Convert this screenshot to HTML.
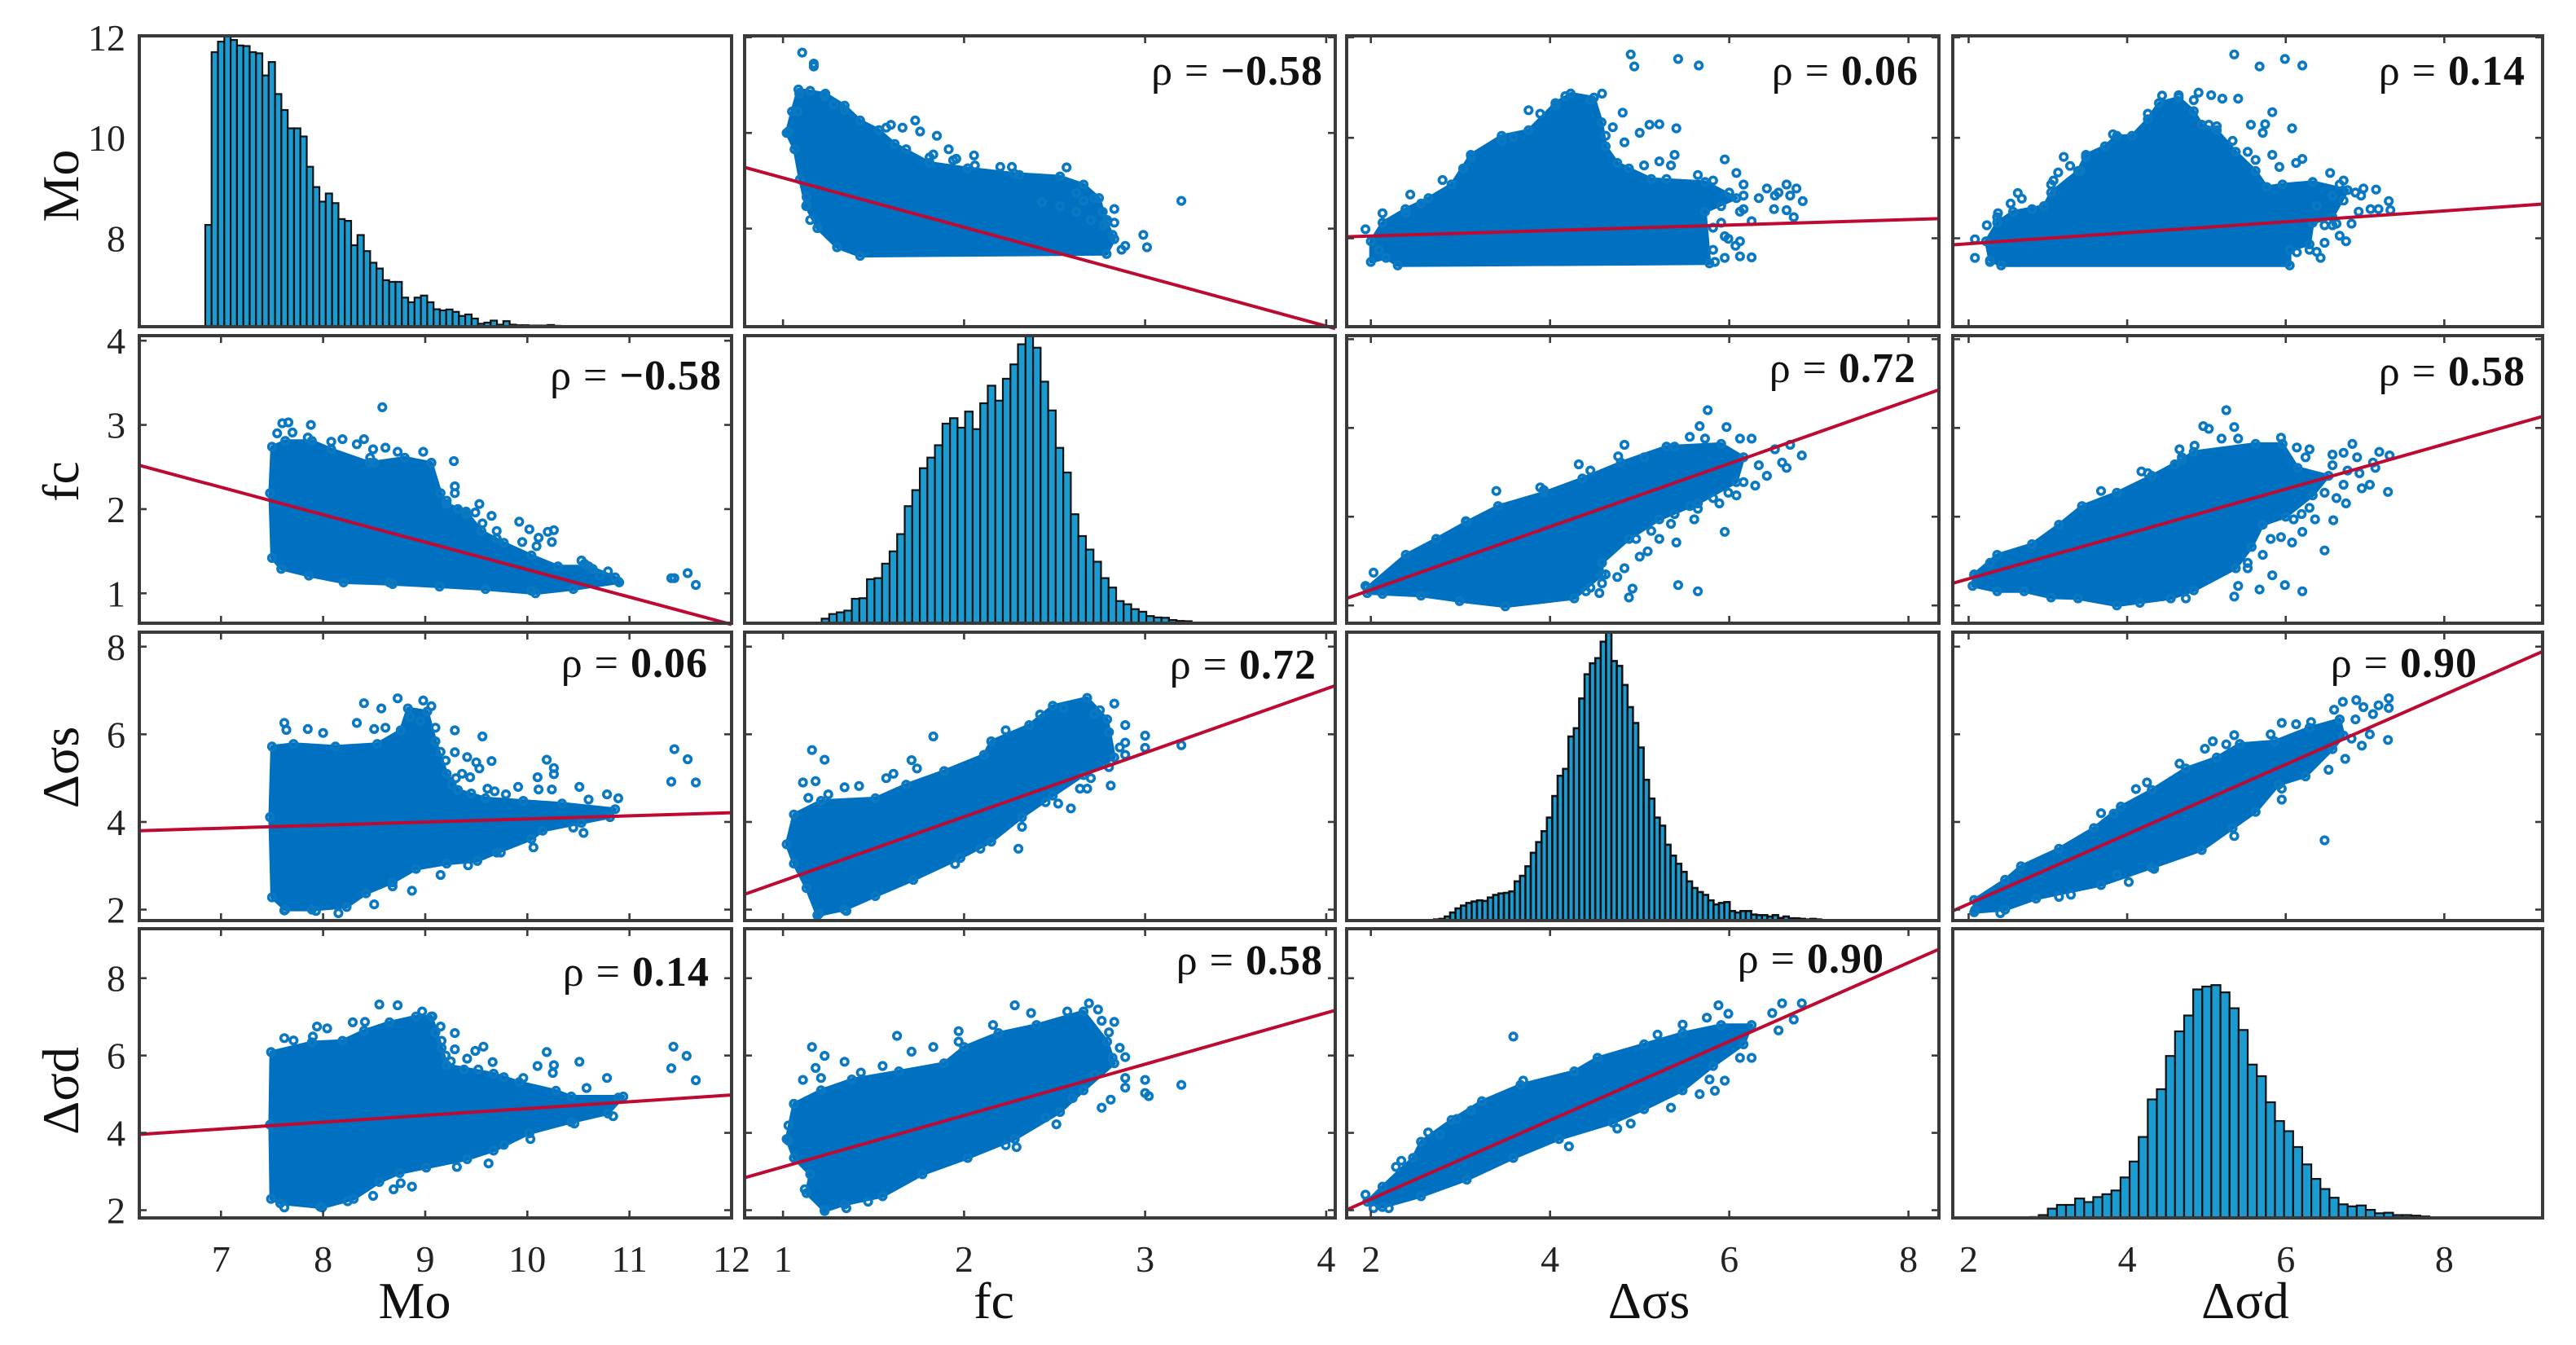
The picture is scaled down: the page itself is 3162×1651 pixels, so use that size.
<!DOCTYPE html>
<html lang="en">
<head>
<meta charset="utf-8">
<title>Scatterplot matrix of Mo, fc, Δσs, Δσd</title>
<style>
html,body{margin:0;padding:0;background:#fff;}
svg{display:block;}
text{font-family:"Liberation Serif",serif;fill:#111;}
.tick{font-size:46px;fill:#222;}
.title{font-size:64px;}
.rho{font-size:52px;letter-spacing:1px;}
.rho tspan.n{font-weight:bold;}
</style>
</head>
<body>
<svg id="matrix" xmlns="http://www.w3.org/2000/svg" width="3162" height="1651" viewBox="0 0 3162 1651">
<rect x="0" y="0" width="3162" height="1651" fill="#fff"/>
<g id="plots"></g>
<g>
<text class="title" x="509" y="1618" text-anchor="middle">Mo</text>
<text class="title" x="1220" y="1618" text-anchor="middle">fc</text>
<text class="title" x="2024" y="1618" text-anchor="middle">Δσs</text>
<text class="title" x="2756" y="1618" text-anchor="middle">Δσd</text>
<text class="title" transform="translate(96,228) rotate(-90)" text-anchor="middle">Mo</text>
<text class="title" transform="translate(96,591) rotate(-90)" text-anchor="middle">fc</text>
<text class="title" transform="translate(96,942) rotate(-90)" text-anchor="middle">Δσs</text>
<text class="title" transform="translate(96,1339) rotate(-90)" text-anchor="middle">Δσd</text>
</g>
<g>
<text class="rho" x="1624" y="104" text-anchor="end">ρ = <tspan class="n">−0.58</tspan></text>
<text class="rho" x="2355" y="104" text-anchor="end">ρ = <tspan class="n">0.06</tspan></text>
<text class="rho" x="3100" y="104" text-anchor="end">ρ = <tspan class="n">0.14</tspan></text>
<text class="rho" x="886" y="478" text-anchor="end">ρ = <tspan class="n">−0.58</tspan></text>
<text class="rho" x="2352" y="469" text-anchor="end">ρ = <tspan class="n">0.72</tspan></text>
<text class="rho" x="3100" y="473" text-anchor="end">ρ = <tspan class="n">0.58</tspan></text>
<text class="rho" x="869" y="831" text-anchor="end">ρ = <tspan class="n">0.06</tspan></text>
<text class="rho" x="1616" y="833" text-anchor="end">ρ = <tspan class="n">0.72</tspan></text>
<text class="rho" x="3041" y="831" text-anchor="end">ρ = <tspan class="n">0.90</tspan></text>
<text class="rho" x="871" y="1210" text-anchor="end">ρ = <tspan class="n">0.14</tspan></text>
<text class="rho" x="1624" y="1196" text-anchor="end">ρ = <tspan class="n">0.58</tspan></text>
<text class="rho" x="2313" y="1194" text-anchor="end">ρ = <tspan class="n">0.90</tspan></text>
</g>
</svg>
<script>
// ---------- axis limits and ticks ----------
const moDomain = [6.2, 12];
const fcDomain = [0.788, 4.05];
const dssDomain = [1.73, 8.34];
const dsdDomain = [1.8, 9.24];
const rowMoDomainFc = [5.95, 12.03];
const rowMoDomain = [6.24, 12.03];
const rowFcDomainMo = [0.645, 4.06];
const rowFcDomain = [0.80, 4.04];
const rowDssDomain = [1.75, 8.33];
const rowDsdDomain = [1.80, 9.28];
const histDomain = [0, 100];
const moTicks = [7, 8, 9, 10, 11, 12];
const fcTicks = [1, 2, 3, 4];
const dssTicks = [2, 4, 6, 8];
const dsdTicks = [2, 4, 6, 8];
const rowMoTicks = [12, 10, 8];
const rowFcTicks = [4, 3, 2, 1];
const rowDssTicks = [8, 6, 4, 2];
const rowDsdTicks = [8, 6, 4, 2];

// ---------- histograms: first bin edge, bin width, bar heights ----------
const histMoStart = 6.846;
const histMoBin = 0.0621;
const histMoValues = [35,94.4,98,100,98.6,96.7,96.5,94.4,94,86.4,91,80,74.5,68.2,68.2,65.4,55,48,43,45.8,42.5,37,36.4,28,31.5,26,22,20,16,15.4,15.4,10,8.4,10,10.7,8.4,6,5.6,5.9,5.1,3.7,4.2,2.8,1,1.4,2.1,0.7,1.9,0.7,0.5,0.5,0.4,0.4,0.4,0.6,0.3,0.2,0.1,0.2,0.2,0.1,0.1,0.1,0.1];
const histFcStart = 1.2135;
const histFcBin = 0.0417;
const histFcValues = [1.6,3.2,3.8,4.4,8.5,8.7,15.3,15.7,20.7,25,31,40.7,46.3,53.9,57.6,61.9,69.4,71.3,68,73.6,67.5,76.5,82.6,77.4,85,90,97,100,95.8,84,74,61,52.4,37.9,30.3,25.6,21.4,15.7,12.4,7.7,6.6,4.9,4,2.5,2,1.9,1.1,0.8,0.7,0.2,0.1,0.1];
const histDssStart = 2.645;
const histDssBin = 0.06;
const histDssValues = [0.2,0.4,0.6,1.4,2.8,4.2,5.2,6.1,6.6,7,6.8,8,8.9,9.4,9.6,10.1,13.6,15.5,18.8,23.5,27.2,31,35.7,43.2,50.2,52.6,63.8,66.7,77,85.4,89.2,91,96.7,100,90,88.3,81.7,74,68.5,60,48.8,42.3,35.7,32.9,26.3,22.5,19.7,16.9,13.6,11.3,9.9,8.9,7,5.6,6.1,6.4,3.3,2.8,3.3,3.3,2.1,1.9,1.9,1.4,1.9,0.9,1.4,0.8,0.8,0.6,0.4,0.6,0.4,0.2,0.1];
const histDsdStart = 2.77;
const histDsdBin = 0.1146;
const histDsdValues = [0.3,1,3.2,4.5,4.5,6.7,5.5,7.2,8.2,9.5,14,19.5,28,41,44.5,56,64.5,70,79,80,80.5,78,72.5,65,53,49,40,33.5,30,24.5,18.5,13.5,10,7,4.7,4,4.3,2.8,1.6,1.8,1,1,0.8,0.5,0.2];

// ---------- dense cloud outlines, edge points and fit-line end values ----------
const cloudFcMo = [[1.085,10.91],[1.234,10.82],[1.34,10.57],[1.426,10.26],[1.53,10.06],[1.617,9.77],[1.81,9.375],[2.02,9.26],[2.277,9.15],[2.53,9.09],[2.66,8.92],[2.745,8.64],[2.787,8.125],[2.83,7.78],[2.787,7.47],[1.426,7.43],[1.298,7.61],[1.19,8.01],[1.128,8.47],[1.094,9.03],[1.064,9.66],[1.02,10],[1.05,10.45]];
const pointsFcMo = [[1.106,11.68],[1.17,11.45],[1.17,11.39],[1.596,10.17],[1.73,10.26],[1.66,10.11],[1.757,10.03],[1.85,9.94],[1.915,9.66],[2.055,9.53],[1.83,9.55],[1.957,9.46],[2.2,9.29],[2.264,9.29],[2.566,9.28],[2.306,9.12],[2.766,8.35],[2.83,8.41],[2.83,8.125],[2.99,7.87],[3.01,7.61],[2.89,7.64],[3.2,8.58],[2.62,8.75],[2.66,8.58],[2.72,8.64],[2.62,8.35],[2.53,8.47],[2.7,8.18],[2.79,8.18],[2.82,7.87],[2.77,8.07],[2.87,7.56],[2.43,8.55],[2.06,9.32],[1.94,9.43],[1.81,9.49],[1.68,9.66],[1.57,10.11],[1.34,10.48],[1.28,10.6],[1.23,10.77],[1.15,10.88],[1.09,10.82],[1.08,10.45],[1.03,10.03],[1.13,8.66],[1.13,8.49],[1.15,8.18]];
const fitFcMo = [9.28, 5.91];

const cloudDssMo = [[2,7.94],[2.13,8.31],[2.386,8.58],[2.644,8.8],[2.9,9.07],[3.116,9.66],[3.46,10.04],[3.76,10.15],[4.06,10.69],[4.23,10.88],[4.49,10.8],[4.575,10.31],[4.62,9.83],[4.75,9.5],[5.13,9.18],[5.73,9.12],[6.08,8.8],[5.73,8.53],[5.78,7.5],[2.3,7.46],[2.17,7.61],[2,7.53]];
const pointsDssMo = [[4.9,11.66],[4.94,11.42],[5.43,11.57],[5.66,11.44],[3.76,10.55],[3.89,10.48],[4.81,10.5],[5,10.1],[5.11,10.26],[5.22,10.27],[5.41,10.19],[4.83,9.91],[5.39,9.66],[5.95,9.57],[6.08,9.3],[5.22,9.53],[5.35,9.45],[2.44,8.87],[2.8,9.16],[2.13,8.5],[1.94,8.18],[6.16,9.07],[6.42,8.99],[6.64,9.07],[6.75,8.99],[6.82,8.74],[6.5,8.58],[6.64,8.56],[6.25,8.34],[6.72,8.42],[6.12,8.53],[5.91,8.31],[5.95,8.04],[6.07,7.85],[6.12,7.64],[6.25,7.62],[5.95,7.61],[5.84,7.53],[6.33,8.8],[6.55,8.91],[2.56,8.69],[2.39,8.5],[3.03,9.39],[3.12,9.61],[3.46,9.94],[3.59,10.02],[4.06,10.64],[4.17,10.83],[4.58,10.88],[4.45,10.75],[4.7,10.21],[4.62,10.04],[4.88,9.39],[5.05,9.45],[5.3,9.18],[5.65,9.26],[5.82,9.15],[6,8.91],[6.16,8.85],[6.51,8.85],[6.68,8.85],[5.91,8.64],[6.16,8.58],[5.82,8.21],[5.99,7.99],[5.82,7.77],[6.12,7.94],[2.09,7.77]];
const fitDssMo = [8.03, 8.39];

const cloudDsdMo = [[2.22,7.94],[2.36,8.31],[2.56,8.53],[2.95,8.64],[3.04,8.91],[3.38,9.34],[3.48,9.66],[3.72,9.83],[3.87,10.04],[4.06,10.04],[4.26,10.37],[4.4,10.69],[4.65,10.8],[4.84,10.53],[4.94,10.26],[5.13,10.15],[5.37,9.72],[5.62,9.34],[5.76,9.02],[5.96,9.07],[6.34,9.12],[6.78,8.96],[6.59,8.42],[6.34,8.31],[6.3,7.88],[6.05,7.77],[6.05,7.46],[2.41,7.46],[2.27,7.56]];
const pointsDsdMo = [[5.35,11.66],[5.67,11.42],[5.99,11.57],[6.21,11.44],[4.44,10.84],[4.9,10.9],[5.06,10.85],[5.2,10.78],[5.4,10.78],[5.83,10.51],[5.56,10.26],[5.74,10.27],[5.71,10.1],[6.08,10.19],[5.83,9.66],[6.21,9.58],[6.13,9.5],[5.92,9.42],[3.2,9.62],[3.28,9.44],[3.13,9.31],[3.07,9.15],[2.62,8.9],[2.67,8.79],[2.53,8.69],[2.37,8.5],[2.23,8.26],[2.08,7.98],[2.08,7.61],[2.27,7.53],[7.14,8.97],[7.3,8.74],[7.32,8.56],[7.17,8.58],[7.07,8.58],[6.98,8.99],[6.92,8.53],[6.83,8.29],[6.64,8.29],[6.49,8.26],[6.76,7.94],[6.68,8.05],[6.49,7.91],[6.39,7.73],[6.44,7.61],[6.14,7.72],[6.3,7.77],[6.73,9.15],[6.56,9.3],[6.59,8.85],[6.68,9.07],[6.88,8.91],[6.73,8.75],[6.95,8.85],[6.39,8.64],[5.62,9.56],[5.52,9.72],[5.33,9.94],[5.13,10.23],[5.03,10.26],[4.84,10.75],[4.65,10.85],[4.26,10.48],[3.82,10.07],[3.48,9.61],[3.41,9.34],[3.04,9.07],[2.8,8.58],[2.36,8.42],[6.59,8.26]];
const fitDsdMo = [7.87, 8.68];

const cloudMoFc = [[7.5,2.74],[7.63,2.81],[7.89,2.81],[8.08,2.71],[8.46,2.55],[8.8,2.61],[9.06,2.55],[9.15,2.19],[9.21,2.06],[9.4,1.97],[9.55,1.74],[9.77,1.6],[10.04,1.45],[10.3,1.32],[10.6,1.32],[10.86,1.19],[10.9,1.13],[10.45,1.05],[10.08,1],[9.59,1.05],[9.14,1.08],[8.68,1.11],[8.2,1.13],[7.86,1.21],[7.59,1.29],[7.5,1.42],[7.48,2.19]];
const pointsMoFc = [[8.58,3.21],[7.66,3.03],[7.6,3.02],[7.88,3],[7.55,2.9],[7.7,2.91],[7.85,2.85],[8.08,2.8],[8.19,2.83],[8.4,2.83],[8.33,2.77],[8.49,2.71],[8.61,2.73],[8.73,2.68],[8.98,2.68],[9.28,2.57],[9.06,2.55],[9.29,2.27],[9.29,2.19],[9.21,2.1],[9.53,2.06],[9.49,1.96],[9.65,1.92],[9.56,1.83],[9.7,1.74],[9.92,1.85],[10.02,1.76],[10.26,1.75],[10.2,1.73],[10.24,1.61],[10.11,1.66],[10.09,1.56],[9.95,1.61],[10.56,1.35],[11.41,1.18],[11.44,1.18],[11.57,1.24],[11.65,1.1],[10.89,1.14],[9.32,2],[9.4,1.94],[9.7,1.65],[10.53,1.39],[10.64,1.29],[10.71,1.21],[10.79,1.26],[8.5,2.55],[8.46,2.61],[8.65,1.13],[10.04,1.03]];
const fitMoFc = [2.52, 0.63];

const cloudDssFc = [[1.96,1.2],[2.39,1.57],[2.73,1.75],[3.07,1.94],[3.42,2.12],[3.93,2.27],[4.36,2.43],[4.79,2.61],[5.3,2.79],[5.91,2.82],[6.16,2.67],[6.08,2.39],[5.65,2.15],[5.22,1.97],[4.88,1.75],[4.58,1.48],[4.58,1.35],[4.27,1.08],[3.5,0.99],[2.99,1.05],[2.56,1.11],[2.13,1.13],[1.96,1.14]];
const pointsDssFc = [[5.76,3.2],[5.67,3.02],[5.97,3.01],[5.56,2.9],[6.12,2.88],[6.25,2.88],[4.83,2.81],[4.76,2.68],[4.32,2.59],[3.4,2.29],[3.06,1.95],[3.89,2.33],[2.03,1.37],[1.94,1.22],[6.81,2.69],[6.59,2.61],[6.68,2.81],[6.64,2.55],[6.42,2.46],[6.29,2.35],[6.08,2.24],[5.89,2.15],[5.65,2.09],[5.61,1.97],[5.35,1.92],[5.95,1.83],[5.22,1.75],[5.41,1.71],[5.09,1.61],[5,1.55],[4.83,1.42],[4.75,1.32],[5.43,1.23],[5.65,1.16],[4.92,1.19],[4.88,1.09],[4.55,1.14],[4.58,1.25],[4.4,1.16],[6.51,2.76],[6.33,2.58],[6.16,2.39],[5.99,2.27],[5.82,2.21],[5.56,2.12],[5.39,2.03],[5.13,1.84],[4.96,1.75],[4.62,1.35],[4.45,1.2],[5.73,2.88],[5.39,2.79],[5.05,2.67],[4.45,2.52],[3.93,2.3]];
const fitDssFc = [1.08, 3.43];

const cloudDsdFc = [[2.07,1.35],[2.36,1.57],[2.8,1.69],[3.14,1.91],[3.43,2.12],[3.87,2.27],[4.31,2.46],[4.69,2.64],[4.84,2.73],[5.62,2.82],[5.96,2.82],[6.15,2.55],[6.54,2.46],[6.34,2.24],[6,2],[5.71,1.91],[5.57,1.66],[5.37,1.42],[4.84,1.17],[4.55,1.08],[3.87,1],[3.38,1.08],[3.04,1.09],[2.7,1.16],[2.36,1.16],[2.05,1.22]];
const pointsDsdFc = [[5.25,3.2],[4.96,3.02],[5.03,2.99],[5.35,3.01],[5.19,2.88],[5.4,2.88],[4.85,2.8],[4.66,2.76],[5.94,2.89],[6.14,2.78],[6.3,2.76],[6.84,2.82],[6.73,2.72],[6.9,2.67],[7.18,2.73],[7.31,2.69],[7.1,2.61],[7.13,2.55],[7.06,2.36],[6.96,2.32],[7.29,2.28],[6.76,2.15],[6.73,2.36],[6.59,2.7],[3.67,2.29],[4.18,2.51],[4.26,2.49],[4.6,2.59],[6.37,1.97],[6.6,1.96],[6.3,2.1],[6.21,1.83],[6.49,1.62],[6.08,1.71],[5.94,1.77],[5.81,1.75],[5.83,1.34],[5.99,1.23],[6.21,1.16],[5.67,1.18],[5.4,1.22],[5.35,1.1],[5.71,1.57],[5.52,1.42],[2.07,1.34],[2.27,1.48],[6.59,2.58],[6.78,2.52],[6.93,2.49],[6.49,2.27],[6.64,2.21],[6.2,2.03],[6.1,1.97],[5.52,1.48],[4.74,1.08],[4.16,1.03],[6.25,2.67],[4.69,2.67]];
const fitDsdFc = [1.25, 3.13];

const cloudMoDss = [[7.5,5.72],[7.71,5.78],[8.12,5.72],[8.53,5.78],[8.76,6.09],[8.83,6.59],[9.02,6.52],[9.1,5.84],[9.21,5.1],[9.32,4.73],[9.59,4.54],[9.96,4.48],[10.34,4.42],[10.86,4.29],[10.81,4.11],[10.53,3.98],[10.15,3.8],[10.04,3.61],[9.7,3.3],[9.51,3.11],[9.21,3.05],[8.91,2.93],[8.68,2.62],[8.42,2.37],[8.23,2.06],[7.89,2],[7.63,2],[7.5,2.28],[7.48,4.11]];
const pointsMoDss = [[8.73,6.82],[8.4,6.71],[8.57,6.59],[8.98,6.77],[9.06,6.64],[7.62,6.26],[7.64,6.1],[7.85,6.12],[8,6.03],[8.33,6.26],[8.5,6.12],[8.61,6.15],[9.29,6.09],[9.56,5.95],[9.1,6.15],[9.29,5.59],[9.41,5.48],[9.5,5.36],[9.65,5.39],[9.53,5.22],[9.44,5.02],[9.36,5.1],[9.61,4.76],[9.68,4.7],[9.79,4.63],[9.91,4.8],[10.19,5.42],[10.26,5.23],[10.26,5.09],[10.1,5.02],[10.11,4.74],[10.24,4.74],[10.51,4.8],[10.6,4.51],[10.78,4.63],[10.89,4.54],[11.44,5.66],[11.57,5.43],[11.41,4.92],[11.65,4.9],[10.55,3.75],[10.45,3.87],[10.06,3.42],[9.74,3.3],[9.42,3.01],[9.15,2.79],[8.87,2.43],[8.5,2.12],[8.15,1.92],[7.93,1.97],[7.62,1.98],[8.68,2.53],[9.15,5.6],[9.2,5.4],[9.3,5],[9.26,4.85],[9.45,4.65],[8.95,6.3],[8.85,6.4]];
const fitMoDss = [3.8, 4.21];

const cloudFcDss = [[1.06,4.17],[1.21,4.48],[1.51,4.54],[1.68,4.85],[1.89,5.16],[2.11,5.53],[2.15,5.84],[2.36,6.21],[2.49,6.65],[2.68,6.83],[2.79,6.34],[2.83,5.47],[2.66,5.07],[2.49,4.6],[2.32,4.11],[2.15,3.55],[1.98,3.18],[1.72,2.68],[1.51,2.31],[1.34,2],[1.19,1.87],[1.13,2.49],[1.06,3.05],[1.02,3.49]];
const pointsFcDss = [[1.16,5.64],[1.23,5.42],[1.83,5.95],[1.11,4.9],[1.18,4.93],[1.34,4.79],[1.42,4.82],[1.14,4.55],[1.25,4.63],[1.57,5],[1.61,5.1],[1.71,5.41],[1.74,5.22],[2.83,6.7],[2.89,6.21],[3,5.97],[2.89,5.81],[3,5.69],[3.2,5.75],[2.89,5.53],[2.81,4.83],[2.68,4.76],[2.64,4.76],[2.59,4.31],[2.52,4.42],[2.3,3.39],[2.09,3.39],[1.95,3.04],[2.23,6.09],[2.72,6.46],[1.2,1.91],[1.35,1.97],[2.32,3.89],[2.8,6.05],[2.75,6.55],[2.55,6.6],[2.42,6.45],[2.86,5.7],[2.8,5.25],[2.7,5],[2.45,4.45]];
const fitFcDss = [2.35, 7.11];

const cloudDsdDss = [[2.07,2.22],[2.46,2.68],[2.66,2.99],[3.14,3.39],[3.58,3.86],[3.92,4.35],[4.31,4.73],[4.74,5.22],[5.13,5.47],[5.42,5.78],[5.86,5.84],[6.3,6.15],[6.68,6.34],[6.73,5.97],[6.59,5.66],[6.25,5.04],[5.91,4.85],[5.62,4.23],[5.33,3.86],[4.94,3.36],[4.31,2.96],[3.67,2.56],[2.85,2.25],[2.46,2],[2.07,1.94]];
const pointsDsdDss = [[7.3,6.82],[7.3,6.6],[7.17,6.66],[7.1,6.46],[6.89,6.78],[6.72,6.74],[6.98,6.62],[6.88,6.34],[6.61,6.56],[7.29,5.87],[7.06,6],[6.96,5.74],[6.83,5.9],[6.75,5.44],[6.54,5.19],[6.49,3.58],[5.95,4.51],[5.95,4.76],[5.95,6.26],[5.35,3.68],[5.35,5.98],[5.08,5.84],[4.98,5.67],[5.25,5.77],[4.66,5.33],[4.25,4.9],[4.11,4.75],[3.67,4.2],[3.83,4.19],[4.02,2.63],[3.14,2.29],[3.29,2.34],[2.4,1.92],[2.08,1.99],[4.34,2.93],[3.87,2.8],[5.81,6],[6.13,6.23],[6.32,6.28]];
const fitDsdDss = [1.97, 7.89];

const cloudMoDsd = [[7.49,6.09],[7.89,6.34],[8.19,6.38],[8.4,6.64],[8.65,6.86],[8.91,7.01],[9.06,7.01],[9.16,6.2],[9.21,5.75],[9.67,5.53],[9.92,5.31],[10.28,5.09],[10.43,4.94],[10.94,4.94],[10.79,4.5],[10.43,4.28],[10.02,3.99],[9.67,3.54],[9.41,3.32],[9.01,3.1],[8.75,2.96],[8.55,2.73],[8.3,2.29],[7.99,2.07],[7.58,2.18],[7.49,2.29],[7.48,4.21]];
const pointsMoDsd = [[8.55,7.32],[8.73,7.3],[8.97,7.14],[9.07,7.01],[8.29,6.86],[8.41,6.87],[7.94,6.75],[8.04,6.7],[7.62,6.45],[7.71,6.39],[7.9,6.49],[9.29,6.58],[9.16,6.38],[9.29,6.16],[9.57,6.23],[9.49,6.12],[9.41,5.92],[9.66,5.83],[9.38,5.64],[9.52,5.64],[9.77,5.44],[9.96,5.42],[10.19,6.09],[10.1,5.73],[10.26,5.75],[10.25,5.55],[10.51,5.84],[10.78,5.42],[10.58,5.16],[10.89,4.91],[11.43,6.23],[11.56,5.99],[11.41,5.67],[11.65,5.36],[10.84,4.43],[10.46,4.24],[10.03,3.84],[9.77,3.69],[9.62,3.21],[9.31,3.12],[8.69,2.54],[8.76,2.7],[8.87,2.61],[8.49,2.37],[8.24,2.23],[7.97,2.09],[7.62,2.07],[9.2,6],[9.25,5.85],[9.1,6.6],[9.15,6.75]];
const fitMoDsd = [3.96, 4.98];

const cloudFcDsd = [[1.06,4.75],[1.21,5.1],[1.38,5.38],[1.64,5.59],[1.89,5.8],[2,6.22],[2.19,6.58],[2.4,6.79],[2.66,7.14],[2.79,6.36],[2.83,5.8],[2.66,5.1],[2.53,4.54],[2.28,3.84],[2.02,3.35],[1.77,2.93],[1.55,2.36],[1.34,2.15],[1.23,1.98],[1.13,2.44],[1.15,2.93],[1.06,3.35],[1.02,3.84]];
const pointsFcDsd = [[2.28,7.3],[2.69,7.35],[2.74,7.19],[2.83,6.87],[1.63,6.51],[1.97,6.63],[1.97,6.36],[1.83,6.22],[1.71,6.1],[1.16,6.22],[1.23,5.99],[1.34,5.84],[1.18,5.68],[1.11,5.37],[1.21,5.42],[1.55,5.73],[1.43,5.56],[2.89,5.96],[2.82,5.94],[2.89,5.42],[3,5.37],[3.2,5.24],[2.89,5.17],[3,5.03],[3.02,4.95],[2.81,4.86],[2.76,4.65],[2.51,4.22],[2.29,3.63],[2.23,3.68],[1.06,4.75],[1.03,4.19],[1.03,3.8],[1.12,2.54],[1.23,2.01],[1.35,2.05],[1.47,2.22],[2.16,6.79],[2.37,7.1],[2.57,7.14],[2.8,6.6],[2.76,6.9],[2.86,6.2],[2.72,5.5],[2.6,4.9],[2.45,4.4]];
const fitFcDsd = [2.84, 7.17];

const cloudDssDsd = [[2.13,2.61],[2.47,3.35],[2.56,3.77],[2.9,4.33],[3.24,4.82],[3.67,5.24],[4.27,5.59],[4.53,5.94],[5.05,6.29],[5.48,6.58],[5.91,6.79],[6.25,6.79],[6.16,6.29],[5.82,5.73],[5.48,5.1],[5.05,4.61],[4.7,4.26],[4.1,3.84],[3.59,3.35],[3.07,2.79],[2.56,2.36],[2.13,2.08],[1.96,2.22]];
const pointsDssDsd = [[3.59,6.49],[5.88,7.3],[5.99,7.08],[6.59,7.35],[6.81,7.35],[5.75,6.98],[5.48,6.8],[5.2,6.54],[6.48,7.1],[6.72,6.93],[6.55,6.65],[6.25,5.94],[6.12,5.94],[5.95,5.35],[5.78,5.38],[5.84,5.09],[5.67,5],[5.35,4.65],[4.9,4.24],[4.75,4.11],[4.21,3.65],[2.34,3.28],[2.28,3.12],[2.64,4.01],[2.77,3.96],[2.96,4.36],[3.12,4.58],[3.7,5.35],[1.94,2.4],[2.03,2.05],[2.2,2.05],[4.53,5.94]];
const fitDssDsd = [2.01, 8.75];

// ---------- layout ----------
const colBoxes = [[171, 898], [914, 1639], [1653, 2380], [2397, 3121]];
const rowBoxes = [[44, 401], [412, 765], [776, 1130], [1140, 1495]];
const xDomains = [moDomain, fcDomain, dssDomain, dsdDomain];
const xTickSets = [moTicks, fcTicks, dssTicks, dsdTicks];
const yTickSets = [rowMoTicks, rowFcTicks, rowDssTicks, rowDsdTicks];
const yLabelDomains = [rowMoDomain, rowFcDomainMo, rowDssDomain, rowDsdDomain];

const CLOUD = '#0070c0';
const MARK = '#0b78c2';
const FIT = '#bd0a33';
const FRAME = '#3a3a3a';
const HIST = '#1b9bd0';

const NS = 'http://www.w3.org/2000/svg';
const root = document.getElementById('plots');

function make(tag, attrs, parent) {
  const el = document.createElementNS(NS, tag);
  for (const k in attrs) el.setAttribute(k, attrs[k]);
  parent.appendChild(el);
  return el;
}
function linear(domain, range) {
  return v => range[0] + (v - domain[0]) * (range[1] - range[0]) / (domain[1] - domain[0]);
}

function drawFrame(g, col, row, xS, yS, withTicks) {
  const cb = colBoxes[col], rb = rowBoxes[row];
  if (withTicks) {
    xTickSets[col].forEach(v => {
      const x = xS(v);
      const top = make('line', {x1: x, x2: x, y1: rb[0], y2: rb[0] + 9, stroke: FRAME, 'stroke-width': 2.6}, g);
      
      
      const bot = make('line', {x1: x, x2: x, y1: rb[1], y2: rb[1] - 9, stroke: FRAME, 'stroke-width': 2.6}, g);
      
      
    });
    yTickSets[row].forEach(v => {
      const y = yS(v);
      const left = make('line', {x1: cb[0], x2: cb[0] + 9, y1: y, y2: y, stroke: FRAME, 'stroke-width': 2.6}, g);
      
      
      const right = make('line', {x1: cb[1], x2: cb[1] - 9, y1: y, y2: y, stroke: FRAME, 'stroke-width': 2.6}, g);
      
      
    });
  }
  const box = make('rect', {x: cb[0], y: rb[0], width: cb[1] - cb[0], height: rb[1] - rb[0], fill: 'none', stroke: FRAME, 'stroke-width': 4}, g);
  
  
}

function drawScatter(name, col, row, yDomain, cloud, points, fit) {
  const cb = colBoxes[col], rb = rowBoxes[row];
  const xS = linear(xDomains[col], cb);
  const yS = linear(yDomain, [rb[1], rb[0]]);
  const g = make('g', {}, root);
  
  

  const pts = cloud.map(p => xS(p[0]).toFixed(1) + ',' + yS(p[1]).toFixed(1)).join(' ');
  const area = make('polygon', {points: pts, fill: CLOUD, stroke: CLOUD, 'stroke-width': 4, 'stroke-linejoin': 'round'}, g);
  
  

  cloud.concat(points).forEach(p => {
    const c = make('circle', {cx: xS(p[0]).toFixed(1), cy: yS(p[1]).toFixed(1), r: 4.3, fill: 'none', stroke: MARK, 'stroke-width': 3.6}, g);
    
    
  });

  const dom = xDomains[col];
  const line = make('line', {x1: xS(dom[0]), x2: xS(dom[1]), y1: yS(fit[0]), y2: yS(fit[1]), stroke: FIT, 'stroke-width': 4}, g);
  
  

  drawFrame(g, col, row, xS, yS, true);
}

function drawHist(name, idx, start, bin, values, edge) {
  const cb = colBoxes[idx], rb = rowBoxes[idx];
  const xS = linear(xDomains[idx], cb);
  const yS = linear(histDomain, [rb[1], rb[0]]);
  const g = make('g', {}, root);
  
  
  values.forEach((v, i) => {
    const x0 = xS(start + i * bin), x1 = xS(start + (i + 1) * bin), y = yS(v);
    const r = make('rect', {x: x0.toFixed(2), y: y.toFixed(1), width: (x1 - x0).toFixed(2), height: (rb[1] - y).toFixed(1), fill: HIST, stroke: '#111', 'stroke-width': edge}, g);
    
    
  });
  drawFrame(g, idx, idx, xS, yS, false);
}

drawHist('panel-hist-mo', 0, histMoStart, histMoBin, histMoValues, 2.2);
drawScatter('panel-mo-vs-fc', 1, 0, rowMoDomainFc, cloudFcMo, pointsFcMo, fitFcMo);
drawScatter('panel-mo-vs-dss', 2, 0, rowMoDomain, cloudDssMo, pointsDssMo, fitDssMo);
drawScatter('panel-mo-vs-dsd', 3, 0, rowMoDomain, cloudDsdMo, pointsDsdMo, fitDsdMo);
drawScatter('panel-fc-vs-mo', 0, 1, rowFcDomainMo, cloudMoFc, pointsMoFc, fitMoFc);
drawHist('panel-hist-fc', 1, histFcStart, histFcBin, histFcValues, 2.2);
drawScatter('panel-fc-vs-dss', 2, 1, rowFcDomain, cloudDssFc, pointsDssFc, fitDssFc);
drawScatter('panel-fc-vs-dsd', 3, 1, rowFcDomain, cloudDsdFc, pointsDsdFc, fitDsdFc);
drawScatter('panel-dss-vs-mo', 0, 2, rowDssDomain, cloudMoDss, pointsMoDss, fitMoDss);
drawScatter('panel-dss-vs-fc', 1, 2, rowDssDomain, cloudFcDss, pointsFcDss, fitFcDss);
drawHist('panel-hist-dss', 2, histDssStart, histDssBin, histDssValues, 2.6);
drawScatter('panel-dss-vs-dsd', 3, 2, rowDssDomain, cloudDsdDss, pointsDsdDss, fitDsdDss);
drawScatter('panel-dsd-vs-mo', 0, 3, rowDsdDomain, cloudMoDsd, pointsMoDsd, fitMoDsd);
drawScatter('panel-dsd-vs-fc', 1, 3, rowDsdDomain, cloudFcDsd, pointsFcDsd, fitFcDsd);
drawScatter('panel-dsd-vs-dss', 2, 3, rowDsdDomain, cloudDssDsd, pointsDssDsd, fitDssDsd);
drawHist('panel-hist-dsd', 3, histDsdStart, histDsdBin, histDsdValues, 2.2);

// ---------- tick labels ----------
xTickSets.forEach((ticks, col) => {
  const xS = linear(xDomains[col], colBoxes[col]);
  ticks.forEach(v => {
    const t = make('text', {x: xS(v), y: 1561, 'text-anchor': 'middle', class: 'tick'}, root);
    t.textContent = String(v);
    
    
  });
});
yTickSets.forEach((ticks, row) => {
  const yS = linear(yLabelDomains[row], [rowBoxes[row][1], rowBoxes[row][0]]);
  ticks.forEach(v => {
    const t = make('text', {x: 154, y: yS(v) + 16, 'text-anchor': 'end', class: 'tick'}, root);
    t.textContent = String(v);
    
    
  });
});
</script>
</body>
</html>
